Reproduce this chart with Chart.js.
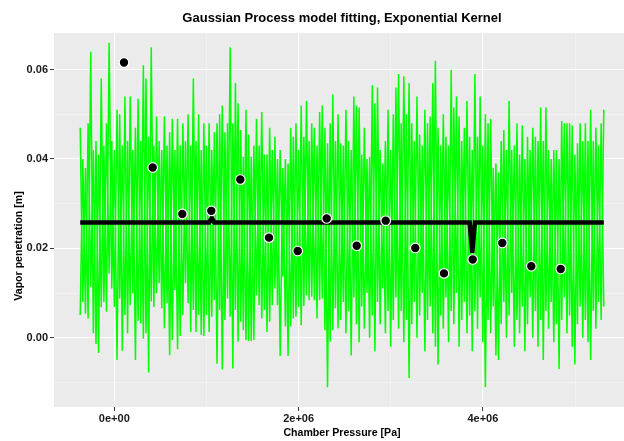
<!DOCTYPE html>
<html>
<head>
<meta charset="utf-8">
<script src="https://cdn.jsdelivr.net/npm/chart.js@4.4.1/dist/chart.umd.min.js"></script>
<style>
  html, body { margin: 0; padding: 0; background: #ffffff; overflow: hidden; }
  #wrap { width: 624px; height: 441px; position: relative; }
</style>
</head>
<body>
<div id="wrap"><canvas id="chart" width="624" height="441"></canvas></div>
<script>
// ---- Text ----
const chartTitle = 'Gaussian Process model fitting, Exponential Kernel';
const xAxisTitle = 'Chamber Pressure [Pa]';
const yAxisTitle = 'Vapor penetration [m]';

// ---- Axis ticks ----
const xMajorTicks = [0, 2000000, 4000000];
const xTickLabels = ['0e+00', '2e+06', '4e+06'];
const xMinorTicks = [1000000, 3000000, 5000000];
const yMajorTicks = [0, 0.02, 0.04, 0.06];
const yTickLabels = ['0.00', '0.02', '0.04', '0.06'];
const yMinorTicks = [-0.01, 0.01, 0.03, 0.05];

// ---- Observations (chamber pressure [Pa], penetration [m]) ----
const obsPressure = [105000, 416700, 737900, 1052600, 1367300, 1678800, 1990200, 2304900,
                     2630500, 2945200, 3266400, 3577900, 3889300, 4210500, 4525200, 4844300];
const obsPenetration = [0.0616, 0.0381, 0.0277, 0.0284, 0.0354, 0.0224, 0.0194, 0.0267,
                        0.0206, 0.0262, 0.0201, 0.0144, 0.0175, 0.0212, 0.0160, 0.0154];

// ---- GP posterior mean ----
const meanPressure = [-370000, 1029100, 1057650, 1086200, 3855850, 3884400, 3912950, 5312000];
const meanPenetration = [0.0258, 0.0258, 0.0268, 0.0258, 0.0258, 0.0190, 0.0258, 0.0258];

// ---- Posterior draws on the prediction grid: highest and lowest draw at each grid point ----
const gridStart = -370000;
const gridEnd = 5312000;
const drawsHigh = [
  0.047, 0.040, 0.038, 0.048, 0.064, 0.042, 0.044, 0.041, 0.058, 0.043,
  0.048, 0.066, 0.044, 0.042, 0.051, 0.050, 0.043, 0.054, 0.044, 0.054,
  0.042, 0.047, 0.0535, 0.044, 0.061, 0.058, 0.045, 0.065, 0.043, 0.0495,
  0.044, 0.042, 0.0495, 0.043, 0.046, 0.049, 0.042, 0.049, 0.043, 0.048,
  0.044, 0.050, 0.043, 0.058, 0.044, 0.050, 0.042, 0.048, 0.043, 0.048,
  0.042, 0.046, 0.048, 0.050, 0.052, 0.046, 0.048, 0.065, 0.048, 0.057,
  0.0525, 0.0465, 0.0405, 0.051, 0.0455, 0.0405, 0.043, 0.049, 0.043, 0.0505,
  0.041, 0.041, 0.047, 0.042, 0.045, 0.040, 0.042, 0.038, 0.040, 0.039,
  0.047, 0.045, 0.048, 0.042, 0.052, 0.045, 0.053, 0.044, 0.048, 0.047,
  0.043, 0.0505, 0.052, 0.047, 0.0435, 0.048, 0.0545, 0.044, 0.050, 0.0435,
  0.043, 0.051, 0.044, 0.042, 0.054, 0.052, 0.0515, 0.041, 0.047, 0.040,
  0.0405, 0.0565, 0.0525, 0.056, 0.042, 0.039, 0.044, 0.051, 0.042, 0.050,
  0.056, 0.059, 0.048, 0.0585, 0.050, 0.057, 0.048, 0.044, 0.054, 0.0455,
  0.043, 0.051, 0.048, 0.0495, 0.057, 0.062, 0.047, 0.043, 0.050, 0.045,
  0.043, 0.060, 0.0515, 0.054, 0.0495, 0.044, 0.047, 0.053, 0.045, 0.042,
  0.059, 0.045, 0.054, 0.043, 0.050, 0.048, 0.049, 0.038, 0.039, 0.037,
  0.044, 0.0465, 0.042, 0.053, 0.042, 0.043, 0.048, 0.041, 0.0475, 0.040,
  0.045, 0.042, 0.047, 0.045, 0.044, 0.0515, 0.044, 0.0515, 0.042, 0.040,
  0.042, 0.042, 0.040, 0.0485, 0.048, 0.048, 0.048, 0.0475, 0.041, 0.0435,
  0.048, 0.044, 0.048, 0.044, 0.051, 0.044, 0.047, 0.043, 0.048, 0.051
];
const drawsLow = [
  0.0051, 0.008, 0.0054, 0.0043, 0.0114, 0.0010, -0.0014, -0.0034, 0.0069, 0.008,
  0.0058, 0.0144, 0.0110, 0.0069, -0.0050, 0.0088, -0.0029, 0.0051, 0.0010, 0.0073,
  0.0099, -0.0050, 0.0038, 0.0032, -0.0002, 0.0010, -0.0078, 0.0081, 0.0069, 0.0099,
  0.0122, 0.0066, 0.0021, 0.0077, -0.0039, -0.0005, 0.0107, -0.0026, 0.0004, 0.0051,
  0.0122, 0.0077, 0.0013, 0.0062, 0.0013, 0.0051, 0.0006, 0.0004, 0.0051, 0.0013,
  0.0047, 0.0084, -0.0058, 0.0062, -0.0071, 0.0040, 0.0088, 0.0047, -0.0069, 0.0062,
  -0.0009, 0.0036, 0.0017, -0.0005, -0.0007, -0.0007, -0.0005, 0.0095, 0.0073, 0.0043,
  0.0062, 0.0013, 0.0036, 0.0073, 0.0110, 0.0073, -0.0041, 0.0137, 0.0025, -0.0041,
  0.0025, 0.0043, 0.0047, 0.0069, 0.0028, 0.0071, 0.0095, 0.0084, 0.0092, 0.0084,
  0.0043, 0.0084, 0.0088, 0.0017, -0.0111, -0.0009, 0.0017, 0.0066, 0.0021, 0.004,
  0.008, 0.001, 0.006, -0.004, 0.009, 0.003, -0.001, 0.007, 0.002, 0.010,
  0.000, 0.005, -0.003, 0.008, 0.003, 0.011, 0.001, 0.006, -0.002, 0.004,
  0.009, 0.002, 0.006, -0.001, 0.004, -0.009, 0.003, 0.008, 0.000, 0.005,
  0.010, -0.003, 0.004, 0.007, 0.001, -0.002, -0.006, 0.005, 0.002, 0.009,
  -0.001, 0.006, 0.003, 0.010, -0.002, 0.004, 0.008, 0.001, 0.005, -0.003,
  0.006, 0.002, 0.009, -0.001, -0.011, 0.004, 0.001, 0.007, -0.004, -0.005,
  0.003, 0.008, 0.000, 0.005, 0.010, -0.002, 0.004, 0.001, 0.007, -0.003,
  0.003, 0.009, 0.000, 0.006, -0.002, 0.004, -0.005, 0.006, 0.002, 0.008,
  -0.001, 0.003, -0.007, 0.004, 0.009, 0.001, 0.005, -0.002, -0.006, 0.003,
  0.007, 0.000, 0.004, -0.001, -0.005, 0.006, 0.002, 0.008, 0.004, 0.007
];

// ---- Build datasets ----
const gridStep = (gridEnd - gridStart) / (drawsHigh.length - 1);
const gridX = drawsHigh.map((_, i) => gridStart + i * gridStep);

// two draws that cross between the high and low values at alternate grid points
const drawA = gridX.map((x, i) => ({ x, y: i % 2 === 0 ? drawsHigh[i] : drawsLow[i] }));
const drawB = gridX.map((x, i) => ({ x, y: i % 2 === 0 ? drawsLow[i] : drawsHigh[i] }));
const meanLine = meanPressure.map((x, i) => ({ x, y: meanPenetration[i] }));
const observations = obsPressure.map((x, i) => ({ x, y: obsPenetration[i] }));

const FONT = '"Liberation Sans", Arial, Helvetica, sans-serif';
const near = (list, v) => list.findIndex(t => Math.abs(t - v) < 1e-9 * Math.max(1, Math.abs(t)));

function gridStyle(majors) {
  return {
    color: c => (c.tick && near(majors, c.tick.value) >= 0) ? '#FFFFFF' : 'rgba(255,255,255,0.7)',
    lineWidth: c => (c.tick && near(majors, c.tick.value) >= 0) ? 1.1 : 0.55,
    tickColor: c => (c.tick && near(majors, c.tick.value) >= 0) ? '#333333' : 'rgba(0,0,0,0)',
    tickWidth: 1,
    tickLength: 4,
    drawTicks: true
  };
}

// panel background and titles
const decor = {
  id: 'decor',
  beforeDraw(chart) {
    const { ctx, chartArea: a } = chart;
    ctx.save();
    ctx.fillStyle = '#EBEBEB';
    ctx.fillRect(a.left, a.top, a.right - a.left, a.bottom - a.top);
    ctx.restore();
  },
  afterDraw(chart) {
    const ctx = chart.ctx;
    ctx.save();
    ctx.fillStyle = '#000000';
    ctx.textAlign = 'center';
    ctx.textBaseline = 'middle';
    ctx.font = 'bold 13px ' + FONT;
    ctx.fillText(chartTitle, 342, 18);
    ctx.font = 'bold 10.6px ' + FONT;
    ctx.fillText(xAxisTitle, 342, 433);
    ctx.translate(19, 246);
    ctx.rotate(-Math.PI / 2);
    ctx.fillText(yAxisTitle, 0, 0);
    ctx.restore();
  }
};

new Chart(document.getElementById('chart'), {
  type: 'scatter',
  data: {
    datasets: [
      { data: observations, showLine: false, order: 0,
        pointRadius: 4.8, pointBackgroundColor: '#000000',
        pointBorderColor: '#FFFFFF', pointBorderWidth: 1.2 },
      { data: meanLine, showLine: true, order: 1, borderColor: '#000000',
        borderWidth: 4.5, pointRadius: 0, tension: 0 },
      { data: drawA, showLine: true, order: 2, borderColor: '#00FF00',
        borderWidth: 1.5, pointRadius: 0, tension: 0 },
      { data: drawB, showLine: true, order: 3, borderColor: '#00FF00',
        borderWidth: 1.5, pointRadius: 0, tension: 0 }
    ]
  },
  options: {
    responsive: false,
    devicePixelRatio: 1,
    animation: false,
    layout: { autoPadding: false, padding: { top: 33, left: 0, right: 0, bottom: 0 } },
    plugins: { legend: { display: false }, tooltip: { enabled: false }, title: { display: false } },
    scales: {
      x: {
        type: 'linear',
        min: -654400,
        max: 5531200,
        afterFit: s => { s.height = 34; s.paddingLeft = 0; s.paddingRight = 0; },
        afterBuildTicks: s => { s.ticks = xMajorTicks.concat(xMinorTicks).sort((a, b) => a - b).map(v => ({ value: v })); },
        grid: gridStyle(xMajorTicks),
        border: { display: false },
        ticks: {
          autoSkip: false, maxRotation: 0, padding: 1,
          color: '#1A1A1A',
          font: { family: FONT, size: 11, weight: 'bold' },
          callback: v => { const k = near(xMajorTicks, v); return k >= 0 ? xTickLabels[k] : ''; }
        }
      },
      y: {
        type: 'linear',
        min: -0.0155,
        max: 0.0682,
        afterFit: s => { s.width = 54; s.paddingTop = 0; s.paddingBottom = 0; },
        afterBuildTicks: s => { s.ticks = yMajorTicks.concat(yMinorTicks).sort((a, b) => a - b).map(v => ({ value: v })); },
        grid: gridStyle(yMajorTicks),
        border: { display: false },
        ticks: {
          autoSkip: false, padding: 2,
          color: '#1A1A1A',
          font: { family: FONT, size: 11, weight: 'bold' },
          callback: v => { const k = near(yMajorTicks, v); return k >= 0 ? yTickLabels[k] : ''; }
        }
      }
    }
  },
  plugins: [decor]
});
</script>
</body>
</html>
